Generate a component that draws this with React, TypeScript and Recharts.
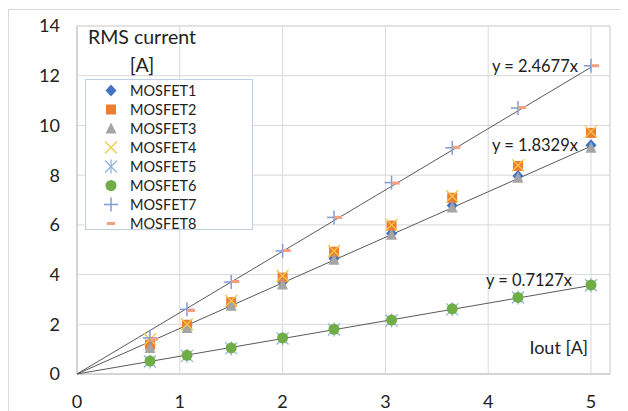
import { CartesianGrid, Legend, ReferenceArea, Scatter, ScatterChart, XAxis, YAxis } from "recharts";

// x positions (Iout)
const iout = [0.71, 1.07, 1.5, 2.0, 2.5, 3.06, 3.65, 4.29, 5.0];
const iout8 = [0.75, 1.11, 1.54, 2.04, 2.54, 3.1, 3.69, 4.33, 5.04];

const mosfet1 = [1.2, 1.95, 2.8, 3.7, 4.65, 5.65, 6.78, 7.97, 9.2];
const mosfet2 = [1.18, 1.98, 2.89, 3.88, 4.92, 5.97, 7.09, 8.37, 9.7];
const mosfet3 = [1.05, 1.85, 2.75, 3.6, 4.6, 5.6, 6.7, 7.9, 9.1];
const mosfet4 = [1.4, 2.0, 2.95, 3.95, 4.95, 6.0, 7.15, 8.4, 9.75];
const mosfet5 = [0.5, 0.73, 1.03, 1.43, 1.79, 2.15, 2.6, 3.08, 3.57];
const mosfet6 = [0.52, 0.75, 1.05, 1.45, 1.8, 2.17, 2.62, 3.08, 3.58];
const mosfet7 = [1.45, 2.6, 3.7, 4.95, 6.3, 7.7, 9.1, 10.7, 12.4];
const mosfet8 = [1.4, 2.55, 3.72, 4.97, 6.3, 7.68, 9.12, 10.72, 12.4];

const trendSlopes = [2.4677, 1.8329, 0.7127];
const xTicks = [0, 1, 2, 3, 4, 5];
const yTicks = [0, 2, 4, 6, 8, 10, 12, 14];
const X_MAX = 5.185;

const FONT = "Lato, 'Liberation Sans', sans-serif";

type Kind = "diamond" | "square" | "triangle" | "x" | "star" | "circle" | "plus" | "dash";

const series: { name: string; xs: number[]; ys: number[]; kind: Kind; color: string }[] = [
  { name: "MOSFET1", xs: iout, ys: mosfet1, kind: "diamond", color: "#4472C4" },
  { name: "MOSFET2", xs: iout, ys: mosfet2, kind: "square", color: "#ED7D31" },
  { name: "MOSFET3", xs: iout, ys: mosfet3, kind: "triangle", color: "#A5A5A5" },
  { name: "MOSFET4", xs: iout, ys: mosfet4, kind: "x", color: "#F2C94C" },
  { name: "MOSFET5", xs: iout, ys: mosfet5, kind: "star", color: "#8DB4E2" },
  { name: "MOSFET6", xs: iout, ys: mosfet6, kind: "circle", color: "#70AD47" },
  { name: "MOSFET7", xs: iout, ys: mosfet7, kind: "plus", color: "#7F9BD8" },
  { name: "MOSFET8", xs: iout8, ys: mosfet8, kind: "dash", color: "#F4A080" },
];

function marker(kind: Kind, cx: number, cy: number, color: string) {
  switch (kind) {
    case "diamond":
      return <polygon points={`${cx},${cy - 6} ${cx + 5.5},${cy} ${cx},${cy + 6} ${cx - 5.5},${cy}`} fill={color} />;
    case "square":
      return <rect x={cx - 5} y={cy - 5} width={10} height={10} fill={color} />;
    case "triangle":
      return <polygon points={`${cx},${cy - 6} ${cx + 5.5},${cy + 5} ${cx - 5.5},${cy + 5}`} fill={color} />;
    case "x":
      return (
        <g stroke={color} strokeWidth={1.3}>
          <line x1={cx - 6} y1={cy - 6} x2={cx + 6} y2={cy + 6} />
          <line x1={cx - 6} y1={cy + 6} x2={cx + 6} y2={cy - 6} />
        </g>
      );
    case "star":
      return (
        <g stroke={color} strokeWidth={1.3}>
          <line x1={cx - 6} y1={cy - 6} x2={cx + 6} y2={cy + 6} />
          <line x1={cx - 6} y1={cy + 6} x2={cx + 6} y2={cy - 6} />
          <line x1={cx} y1={cy - 7} x2={cx} y2={cy + 7} />
        </g>
      );
    case "circle":
      return <circle cx={cx} cy={cy} r={5.5} fill={color} />;
    case "plus":
      return (
        <g stroke={color} strokeWidth={1.5}>
          <line x1={cx - 7} y1={cy} x2={cx + 7} y2={cy} />
          <line x1={cx} y1={cy - 7} x2={cx} y2={cy + 7} />
        </g>
      );
    case "dash":
      return <rect x={cx - 4} y={cy - 1.5} width={8} height={3} fill={color} />;
  }
}

// label offsets of the trend equations, relative to the line end
const trendLabelShift = [
  { dx: -13, dy: 1 },
  { dx: -13, dy: 1 },
  { dx: -19, dy: -4 },
];

function LegendBox() {
  return (
    <div
      style={{
        border: "1px solid #BDD0E4",
        background: "#fff",
        width: 168,
        height: 151,
        boxSizing: "border-box",
        paddingTop: 1,
        fontFamily: FONT,
        fontSize: 14.5,
        color: "#222",
      }}
    >
      {series.map((s) => (
        <div key={s.name} style={{ display: "flex", alignItems: "center", height: 19 }}>
          <svg width={44} height={19} style={{ flex: "none" }}>
            {marker(s.kind, 25, 9.5, s.color)}
          </svg>
          <span>{s.name}</span>
        </div>
      ))}
    </div>
  );
}

export default function App() {
  return (
    <div style={{ position: "relative", width: 620, height: 403 }}>
      <div
        style={{
          position: "absolute",
          left: 0,
          top: 1,
          width: 620,
          height: 402,
          borderLeft: "1px solid #D9D9D9",
          borderTop: "1px solid #D9D9D9",
          pointerEvents: "none",
        }}
      />
      <ScatterChart width={620} height={403} margin={{ top: 18, right: 18, bottom: 0, left: 0 }}>
        <CartesianGrid stroke="#D9D9D9" strokeWidth={1} />
        <ReferenceArea x1={0} x2={X_MAX} y1={0} y2={14} fill="none" stroke="#D9D9D9" ifOverflow="visible" />
        <XAxis
          type="number"
          dataKey="x"
          domain={[0, X_MAX]}
          ticks={xTicks}
          height={37}
          tickSize={0}
          tickMargin={21}
          axisLine={{ stroke: "#C8C8C8" }}
          tick={{ fill: "#222", fontSize: 18, fontFamily: FONT }}
          allowDataOverflow
          label={{
            content: (p: any) => {
              const vb = p.viewBox;
              return (
                <text x={vb.x + vb.width - 22} y={vb.y - 20} textAnchor="end" fontSize={18} fontFamily={FONT} fill="#222">
                  Iout [A]
                </text>
              );
            },
          }}
        />
        <YAxis
          type="number"
          dataKey="y"
          domain={[0, 14]}
          ticks={yTicks}
          width={69}
          tickSize={0}
          tickMargin={17}
          axisLine={{ stroke: "#C8C8C8" }}
          tick={{ fill: "#222", fontSize: 18, fontFamily: FONT }}
          label={{
            content: (p: any) => {
              const vb = p.viewBox;
              const cx = vb.x + vb.width + 65;
              return (
                <text textAnchor="middle" fontSize={19.5} fontFamily={FONT} fill="#222">
                  <tspan x={cx} y={vb.y + 18}>RMS current</tspan>
                  <tspan x={cx} y={vb.y + 46}>[A]</tspan>
                </text>
              );
            },
          }}
        />
        <Legend
          layout="vertical"
          align="center"
          verticalAlign="middle"
          wrapperStyle={{ left: 77, top: 71, width: 168, height: 151 }}
          content={() => <LegendBox />}
        />
        {trendSlopes.map((s, i) => (
          <Scatter
            key={"trend" + i}
            data={[
              { x: 0, y: 0 },
              { x: 5, y: 5 * s },
            ]}
            line={{ stroke: "#595959", strokeWidth: 1 }}
            lineType="joint"
            legendType="none"
            isAnimationActive={false}
            shape={(p: any) =>
              p.payload && p.payload.x > 0 ? (
                <text
                  x={p.cx + trendLabelShift[i].dx}
                  y={p.cy + trendLabelShift[i].dy}
                  textAnchor="end"
                  dominantBaseline="middle"
                  fontSize={16.5}
                  fontFamily={FONT}
                  fill="#222"
                >
                  {`y = ${s}x`}
                </text>
              ) : (
                <g />
              )
            }
          />
        ))}
        {series.map((s) => (
          <Scatter
            key={s.name}
            name={s.name}
            data={s.xs.map((x, j) => ({ x, y: s.ys[j] }))}
            fill={s.color}
            isAnimationActive={false}
            shape={(p: any) => marker(s.kind, p.cx, p.cy, s.color)}
          />
        ))}
      </ScatterChart>
    </div>
  );
}
